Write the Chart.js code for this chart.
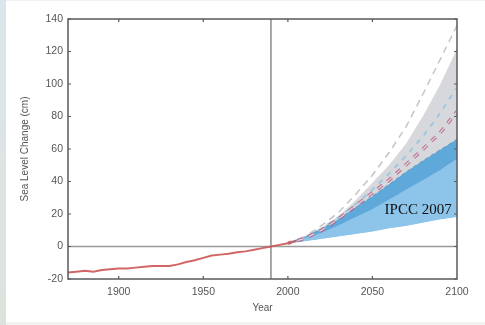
<!DOCTYPE html>
<html>
<head>
<meta charset="utf-8">
<script src="https://cdn.jsdelivr.net/npm/chart.js@4.4.1/dist/chart.umd.min.js"></script>
<style>
  html, body { margin: 0; padding: 0; background: #fff; }
  #wrap { position: relative; width: 485px; height: 325px; overflow: hidden; }
  #strip { position: absolute; left: 0; top: 0; width: 6px; height: 325px;
           background: linear-gradient(to bottom, #dbe6ec, #dde2dc); }
  #topline { position: absolute; left: 6px; top: 0; width: 479px; height: 1px; background: #eef2f4; }
  #botline { position: absolute; left: 6px; top: 322px; width: 479px; height: 3px; background: #f3f4f2; }
  #box { position: absolute; left: 0; top: 0; width: 485px; height: 325px; }
  canvas { filter: blur(0.35px); }
</style>
</head>
<body>
<div id="wrap">
  <div id="strip"></div>
  <div id="topline"></div>
  <div id="botline"></div>
  <div id="box"><canvas id="seaChart"></canvas></div>
</div>
<script>
// observed sea level (cm, relative to 1990)
const obsYears = [1870, 1875, 1880, 1885, 1890, 1895, 1900, 1905, 1910, 1915, 1920, 1925, 1930, 1935,
                  1940, 1945, 1950, 1955, 1960, 1965, 1970, 1975, 1980, 1985, 1990, 1995, 2000, 2005];
const obsLevel = [-16, -15.5, -15, -15.5, -14.5, -14, -13.5, -13.5, -13, -12.5, -12, -12, -12, -11,
                  -9.5, -8.5, -7, -5.5, -5, -4.5, -3.5, -3, -2, -1, 0, 1, 2, 3.5];

// projections
const projYears = [2000, 2010, 2020, 2030, 2040, 2050, 2060, 2070, 2080, 2090, 2100];
const ipccLow   = [2, 3.5, 5, 6.5, 8, 9.5, 11.5, 13, 15, 17, 18.5];
const ipccMid   = [2, 5, 8.5, 13, 18, 23, 29, 35, 41, 47, 54];
const ipccHigh  = [2, 6, 11, 17, 24, 31, 38.5, 46, 53, 59.5, 66];
const grayHigh  = [2, 6, 11.5, 18.5, 28, 39, 50, 63, 80, 99, 121];
const outerDash = [2, 6, 13, 21, 32, 44, 58, 74, 94, 115, 136];
const redDash   = [2, 5, 10, 17, 25, 33, 41, 50.5, 60, 70, 83];
const blueDash  = [2, 5.5, 11, 18, 26, 35, 45, 56, 68, 82, 98];

const xTicks = [1900, 1950, 2000, 2050, 2100];
const yTicks = [-20, 0, 20, 40, 60, 80, 100, 120, 140];
const baseYear = 1990;

const xMin = 1870, xMax = 2100, yMin = -20, yMax = 140;

const pts = (xs, ys) => xs.map((x, i) => ({ x: x, y: ys[i] }));

const frameTicks = {
  id: 'frameTicks',
  afterDraw(chart) {
    const { ctx, chartArea: a, scales: { x, y } } = chart;
    ctx.save();
    ctx.strokeStyle = '#5a5a5a';
    ctx.lineWidth = 1.5;
    ctx.strokeRect(a.left, a.top, a.right - a.left, a.bottom - a.top);
    ctx.lineWidth = 1.2;
    ctx.beginPath();
    yTicks.forEach(v => {
      const py = y.getPixelForValue(v);
      ctx.moveTo(a.left, py); ctx.lineTo(a.left + 3, py);
      ctx.moveTo(a.right, py); ctx.lineTo(a.right - 3, py);
    });
    xTicks.forEach(v => {
      if (v === xMax) return;
      const px = x.getPixelForValue(v);
      ctx.moveTo(px, a.bottom); ctx.lineTo(px, a.bottom - 3);
      ctx.moveTo(px, a.top); ctx.lineTo(px, a.top + 3);
    });
    ctx.stroke();
    // label
    ctx.fillStyle = '#111';
    ctx.font = '15px "Liberation Serif", "Times New Roman", serif';
    ctx.textAlign = 'center';
    ctx.textBaseline = 'middle';
    ctx.fillText('IPCC 2007', x.getPixelForValue(2077), y.getPixelForValue(22.5));
    ctx.restore();
  }
};

const tickFont = { family: '"Liberation Sans", Arial, sans-serif', size: 10.5 };

const ctx = document.getElementById('seaChart').getContext('2d');
new Chart(ctx, {
  type: 'line',
  data: {
    datasets: [
      { // 0 observed
        data: pts(obsYears, obsLevel), borderColor: 'rgba(205,85,85,0.9)', borderWidth: 2,
        pointRadius: 0, fill: false, order: 0
      },
      { // 1 zero line
        data: [{ x: xMin, y: 0 }, { x: xMax, y: 0 }], borderColor: '#9a9a9a', borderWidth: 1.5,
        pointRadius: 0, fill: false, order: 9
      },
      { // 2 base year line
        data: [{ x: baseYear, y: yMin }, { x: baseYear, y: yMax }], borderColor: '#8a8a8a', borderWidth: 1.5,
        pointRadius: 0, fill: false, order: 9
      },
      { // 3 outer dashed
        data: pts(projYears, outerDash), borderColor: 'rgba(190,190,195,0.9)', borderWidth: 1.5,
        borderDash: [7, 5], pointRadius: 0, fill: false, order: 2
      },
      { // 4 light blue dashed
        data: pts(projYears, blueDash), borderColor: 'rgba(150,200,225,0.9)', borderWidth: 2,
        borderDash: [5, 6], pointRadius: 0, fill: false, order: 2
      },
      { // 5 red dashed (outer)
        data: pts(projYears, redDash), borderColor: 'rgba(190,90,125,0.8)', borderWidth: 3.5,
        borderDash: [6, 6], borderDashOffset: -10, pointRadius: 0, fill: false, order: 1
      },
      { // 6 red dashed (inner)
        data: pts(projYears, redDash), borderColor: 'rgba(215,225,240,0.95)', borderWidth: 1.2,
        borderDash: [6, 6], borderDashOffset: -10, pointRadius: 0, fill: false, order: 0.5
      },
      { // 7 gray band top
        data: pts(projYears, grayHigh), borderColor: 'rgba(214,216,219,1)', borderWidth: 1,
        backgroundColor: 'rgba(214,216,219,1)', pointRadius: 0, fill: 8, order: 7
      },
      { // 8 ipcc upper, dark blue band to mid
        data: pts(projYears, ipccHigh), borderColor: 'rgba(80,110,140,0.5)', borderWidth: 1,
        borderDash: [4, 3], backgroundColor: 'rgba(95,168,218,1)', pointRadius: 0, fill: 9, order: 5
      },
      { // 9 ipcc mid, light blue band to low
        data: pts(projYears, ipccMid), borderColor: 'rgba(130,190,230,0.6)', borderWidth: 1,
        backgroundColor: 'rgba(140,196,234,1)', pointRadius: 0, fill: 10, order: 6
      },
      { // 10 ipcc low
        data: pts(projYears, ipccLow), borderColor: 'rgba(140,196,234,1)', borderWidth: 1,
        pointRadius: 0, fill: false, order: 6
      }
    ]
  },
  options: {
    responsive: true,
    maintainAspectRatio: false,
    animation: false,
    layout: { padding: { left: 0, top: 19, right: 28, bottom: 0 } },
    plugins: { legend: { display: false }, tooltip: { enabled: false } },
    scales: {
      x: {
        type: 'linear', min: xMin, max: xMax,
        afterBuildTicks: s => { s.ticks = xTicks.map(v => ({ value: v })); },
        afterFit: s => { s.height = 46; },
        grid: { display: false, drawTicks: false },
        border: { display: false },
        ticks: { padding: 7, color: '#555', font: tickFont, callback: v => String(v) },
        title: { display: true, text: 'Year', color: '#555', padding: { top: 0, bottom: 11 },
                 font: { family: '"Liberation Sans", Arial, sans-serif', size: 10 } }
      },
      y: {
        min: yMin, max: yMax,
        afterBuildTicks: s => { s.ticks = yTicks.map(v => ({ value: v })); },
        afterFit: s => { s.width = 68; },
        grid: { display: false, drawTicks: false },
        border: { display: false },
        ticks: { padding: 5, color: '#555', font: tickFont, callback: v => String(v) },
        title: { display: true, text: 'Sea Level Change (cm)', color: '#555', padding: { top: 19, bottom: 0 },
                 font: { family: '"Liberation Sans", Arial, sans-serif', size: 10 } }
      }
    }
  },
  plugins: [frameTicks]
});
</script>
</body>
</html>
